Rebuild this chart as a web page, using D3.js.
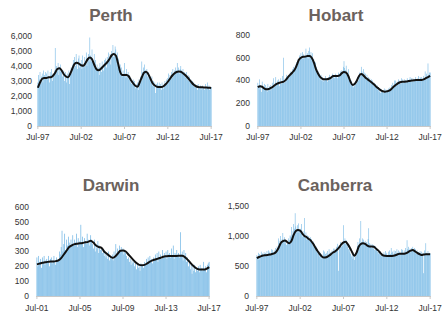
<!DOCTYPE html>
<html>
<head>
<meta charset="utf-8">
<script src="https://cdn.jsdelivr.net/npm/d3@7"></script>
<style>
html,body{margin:0;padding:0;background:#fff;}
svg{display:block;}
</style>
</head>
<body>
<svg id="chart" width="442" height="336"></svg>
<script>
// ---------- DATA ----------
const titles = ["Perth", "Hobart", "Darwin", "Canberra"];

// monthly values, Jul-97 .. Jul-17
const perthMonthly = [
2900,3400,3100,3600,2800,3300,3500,2900,3700,3400,3200,3600,
3500,3100,3700,3300,2900,3600,3400,3800,3000,3500,3300,3700,
5200,3600,4000,3700,4200,3400,3900,4100,3600,3800,3300,3500,
3700,3000,3600,3400,2900,3500,3300,3700,2800,3600,3900,3500,
4100,4400,3900,4600,4000,4800,4300,3800,4500,4700,3900,4200,
4400,3800,4700,4100,3900,4600,4300,4900,4000,4500,4800,4300,
5900,4700,4300,5100,4500,4200,4800,4000,4400,3900,4100,3700,
3900,3400,4200,3800,3600,4300,4000,3700,4400,4100,4500,3900,
4600,4200,4900,4400,4800,4100,5000,4700,5400,4600,4900,5300,
5100,4600,4900,4200,4500,3800,4100,3500,3900,3300,3700,3400,
4200,3500,3200,3800,3300,3600,3100,3400,2900,3200,2800,3000,
3100,2700,3000,2500,2800,2600,2900,2400,3100,2800,3300,3000,
4300,3600,3900,3300,4100,3700,3500,3800,3300,3600,3100,3400,
3200,2900,3300,2700,3000,2600,2900,2200,2800,2500,2900,2700,
2900,2600,2800,2400,2900,2700,2500,2800,3000,2700,3100,2900,
3200,3500,3000,3400,3300,3600,3200,3800,3400,3700,3500,3900,
3700,4200,3600,3900,3500,3800,4000,3700,3500,3800,3400,3600,
3500,3200,3600,3100,3400,3000,3300,2900,3100,2800,3000,2800,
2900,2600,2800,2500,2700,2400,2800,2600,2500,2700,2400,2600,
2700,2500,2600,2400,2800,2500,2600,2900,2500,2700,2400,2600,
2600];
// trend, quarterly, Jul-97 .. Jul-17
const perthTrend = [
2550,2900,3150,3200, 3200,3250,3250,3350, 3550,3800,3850,3700, 3450,3300,3250,3500,
3850,4150,4220,4150, 4050,4020,4200,4450, 4560,4450,4100,3800, 3720,3800,3950,4100,
4250,4450,4700,4800, 4700,4200,3600,3400, 3400,3400,3300,3050, 2850,2680,2620,2900,
3250,3550,3620,3450, 3150,2850,2700,2620, 2600,2600,2650,2780, 2950,3150,3350,3500,
3600,3640,3620,3520, 3400,3250,3080,2900, 2750,2650,2600,2580, 2580,2570,2560,2550,
2540];

const hobartMonthly = [
380,340,410,320,360,300,390,350,330,370,310,360,
340,300,370,320,350,310,360,330,380,340,420,350,
380,430,360,400,370,410,350,390,420,370,440,380,
600,380,420,390,450,410,440,430,460,440,480,450,
500,470,520,490,540,510,560,530,590,560,620,600,
640,610,650,590,630,600,620,680,610,640,590,660,
690,620,650,600,640,570,590,540,560,500,520,470,
480,440,460,410,450,400,430,390,420,400,440,410,
420,390,430,400,450,420,440,410,460,430,450,420,
460,430,450,420,470,440,460,480,450,490,470,520,
570,510,490,530,480,460,500,440,420,380,400,360,
370,340,380,350,390,370,410,430,400,450,470,440,
520,480,460,500,470,440,460,430,450,410,430,400,
420,390,410,370,400,360,380,350,370,340,360,320,
340,300,330,290,320,300,310,290,330,300,320,310,
320,300,330,310,340,320,360,340,380,350,400,370,
400,370,390,360,410,380,400,370,420,390,410,380,
410,380,400,390,420,400,390,410,430,400,420,390,
420,390,410,400,430,410,400,420,440,410,430,420,
430,400,420,440,410,480,430,460,420,550,450,470,
470];
const hobartTrend = [
340,350,345,330, 322,325,335,345, 360,372,380,385, 390,405,430,450,
470,492,530,580, 600,608,610,615, 615,600,560,500, 460,430,415,410,
410,415,425,440, 440,440,445,465, 475,470,440,390, 360,370,400,440,
457,445,425,410, 395,380,365,345, 330,315,305,302, 305,310,325,345,
360,375,385,390, 390,392,395,398, 400,403,405,405, 405,410,420,430,
440];

// Darwin: Jul-01 .. Jul-17
const darwinMonthly = [
260,200,270,230,250,190,260,220,270,210,240,250,
230,270,200,250,260,220,240,270,230,210,260,240,
250,300,280,330,440,300,350,420,310,380,340,400,
360,330,380,350,410,340,380,360,420,330,390,350,
370,480,360,400,330,390,370,350,420,380,360,340,
410,380,350,320,380,300,350,320,370,290,340,310,
330,290,310,270,300,260,280,250,300,240,270,250,
280,240,300,260,350,280,320,290,340,310,330,300,
320,280,310,290,270,250,260,230,250,210,240,220,
230,200,220,180,210,190,200,170,220,200,210,190,
230,210,250,220,260,230,270,240,250,220,260,240,
280,250,290,230,300,260,280,250,310,260,290,270,
300,250,310,280,290,260,320,270,340,250,290,280,
310,270,290,260,430,280,300,240,310,270,290,230,
260,200,240,180,220,150,200,170,210,160,190,170,
200,160,210,180,190,170,230,180,200,160,210,220,
230];
const darwinTrend = [
213,218,224,227, 230,232,233,235, 240,255,280,305, 330,342,350,353,
355,358,362,365, 372,360,340,330, 325,300,285,270, 258,265,285,305,
307,300,280,260, 240,222,210,207, 210,220,232,240, 246,252,258,265,
268,270,270,270, 270,272,272,262, 245,225,205,190, 180,178,178,183,
195];

const canberraMonthly = [
680,640,720,600,700,650,740,690,710,660,730,700,
720,680,750,700,760,710,740,690,780,720,770,730,
760,720,800,750,830,780,960,880,920,1000,870,950,
1050,920,980,870,940,850,910,880,960,930,1010,990,
1150,1020,1080,1200,1120,1380,1160,1090,1180,1050,1210,1100,
1120,1050,1200,990,1080,1020,1300,970,1060,940,1010,960,
1000,930,980,900,950,860,910,820,870,780,830,740,
780,700,750,660,720,620,700,650,760,680,740,700,
720,660,750,690,780,710,730,680,760,720,790,740,
790,730,820,760,870,420,850,780,900,820,880,840,
1180,900,960,870,930,820,880,780,840,730,700,660,
700,620,680,600,700,650,760,830,900,850,960,880,
1250,900,960,870,940,880,920,850,900,860,950,1130,
880,820,870,800,860,790,850,770,830,760,800,740,
760,700,740,680,720,660,700,690,730,680,750,700,
720,680,740,690,760,700,800,720,740,680,760,710,
750,700,780,720,760,690,740,710,780,730,770,720,
760,710,800,740,930,780,820,750,790,730,800,760,
820,760,800,720,780,700,760,690,730,680,750,710,
740,680,720,380,760,700,880,720,690,750,700,720,
710];
const canberraTrend = [
630,650,665,675, 680,685,690,700, 710,740,800,880, 915,925,900,880,
920,1020,1085,1100, 1090,1040,1000,980, 950,920,870,810, 750,700,660,640,
645,665,690,720, 740,770,810,860, 895,905,860,800, 730,670,720,820,
865,880,870,840, 825,825,820,790, 760,720,680,670, 668,668,668,672,
680,695,705,705, 706,715,735,755, 765,745,720,700, 685,690,695,695,
694];

const xLabels9717 = ["Jul-97","Jul-02","Jul-07","Jul-12","Jul-17"];
const xLabels0117 = ["Jul-01","Jul-05","Jul-09","Jul-13","Jul-17"];
const yTicksPerth = [0,1000,2000,3000,4000,5000,6000];
const yTicksHobart = [0,200,400,600,800];
const yTicksDarwin = [0,100,200,300,400,500,600];
const yTicksCanberra = [0,500,1000,1500];

// ---------- LAYOUT ----------
const panels = [
  {title:titles[0], monthly:perthMonthly, trend:perthTrend, xl:xLabels9717, labStep:60, yt:yTicksPerth,
   x0:38, x1:211, yb:126, yt0:36, tx:111, ty:15, lx:32, ly:137},
  {title:titles[1], monthly:hobartMonthly, trend:hobartTrend, xl:xLabels9717, labStep:60, yt:yTicksHobart,
   x0:258, x1:430, yb:126, yt0:35, tx:336, ty:15, lx:250, ly:137},
  {title:titles[2], monthly:darwinMonthly, trend:darwinTrend, xl:xLabels0117, labStep:48, yt:yTicksDarwin,
   x0:37, x1:209, yb:296, yt0:207, tx:111, ty:185, lx:29, ly:308},
  {title:titles[3], monthly:canberraMonthly, trend:canberraTrend, xl:xLabels9717, labStep:60, yt:yTicksCanberra,
   x0:257, x1:430, yb:296, yt0:206, tx:335, ty:185, lx:249, ly:308}
];

const svg = d3.select("#chart");
const font = "'Liberation Sans', Arial, sans-serif";

panels.forEach(p => {
  const g = svg.append("g");
  const n = p.monthly.length;
  const idx = d3.range(n);
  const x = d3.scaleBand().domain(idx).range([p.x0 - 0.4, p.x1 + 0.4]).paddingInner(0.3);
  const xc = i => x(i) + x.bandwidth() / 2;
  const y = d3.scaleLinear().domain([0, d3.max(p.yt)]).range([p.yb, p.yt0]);

  // bars
  g.append("g").selectAll("rect").data(p.monthly).join("rect")
    .attr("x", (d, i) => x(i))
    .attr("width", x.bandwidth())
    .attr("y", d => y(d))
    .attr("height", d => y(0) - y(d))
    .attr("fill", "#5aaae0");

  // x axis
  const tickIdx = p.xl.map((_, k) => k * p.labStep);
  g.append("line").attr("x1", p.x0 - 1).attr("x2", p.x1 + 1)
    .attr("y1", p.yb + 0.5).attr("y2", p.yb + 0.5).attr("stroke", "#c8c8c8").attr("stroke-width", 1);
  g.append("g").selectAll("line").data(tickIdx).join("line")
    .attr("x1", i => xc(i)).attr("x2", i => xc(i))
    .attr("y1", p.yb).attr("y2", p.yb + 3).attr("stroke", "#c8c8c8");
  g.append("g").selectAll("text").data(tickIdx).join("text")
    .attr("x", i => xc(i)).attr("y", p.ly).attr("dy", "0.35em")
    .attr("text-anchor", "middle").attr("font-family", font).attr("font-size", 8.5)
    .attr("fill", "#333").text((i, k) => p.xl[k]);

  // y labels
  const fmt = d3.format(",");
  g.append("g").selectAll("text").data(p.yt).join("text")
    .attr("x", p.lx).attr("y", d => y(d)).attr("dy", "0.35em")
    .attr("text-anchor", "end").attr("font-family", font).attr("font-size", 8.5)
    .attr("fill", "#333").text(d => fmt(d));

  // trend line
  const line = d3.line().x((d, k) => xc(Math.min(k * 3, n - 1))).y(d => y(d)).curve(d3.curveMonotoneX);
  g.append("path").datum(p.trend).attr("d", line)
    .attr("fill", "none").attr("stroke", "#111").attr("stroke-width", 2).attr("stroke-linejoin", "round");

  // title
  g.append("text").attr("x", p.tx).attr("y", p.ty).attr("dy", "0.35em")
    .attr("text-anchor", "middle").attr("font-family", font).attr("font-weight", "bold")
    .attr("font-size", 17).attr("fill", "#6b625d").text(p.title);
});
</script>
</body>
</html>
